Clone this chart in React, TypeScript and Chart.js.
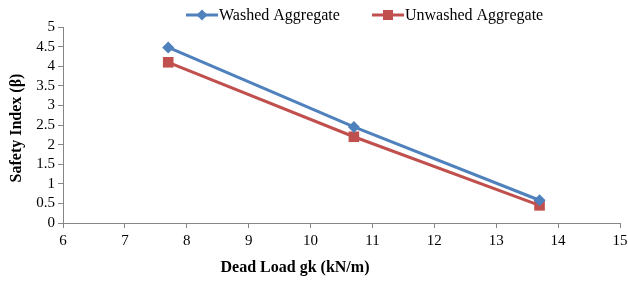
import React, { useEffect, useRef } from "react";
import { Chart, registerables } from "chart.js";

Chart.register(...registerables);

const xValues = [7.7, 10.7, 13.7];
const washed = [4.48, 2.45, 0.58];
const unwashed = [4.1, 2.2, 0.45];
const seriesNames = ["Washed Aggregate", "Unwashed Aggregate"];
const xTitle = "Dead Load gk (kN/m)";
const yTitle = "Safety Index (β)";

const BLUE = "#4F81BD";
const RED = "#C0504D";
const FONT = "Liberation Serif";

export default function App() {
  const ref = useRef<HTMLCanvasElement>(null);
  useEffect(() => {
    document.body.style.margin = "0";
    const ctx = ref.current!;
    const overlay = {
      id: "overlay",
      afterDraw(chart: any) {
        const c = chart.ctx;
        const area = chart.chartArea;
        c.save();
        // legend
        c.font = `16px "${FONT}"`;
        c.textBaseline = "middle";
        c.fillStyle = "#000";
        const ly = 15;
        const items = [
          { x: 186, color: BLUE, style: "rectRot", name: seriesNames[0] },
          { x: 372, color: RED, style: "rect", name: seriesNames[1] },
        ];
        for (const it of items) {
          c.strokeStyle = it.color;
          c.lineWidth = 3;
          c.beginPath();
          c.moveTo(it.x, ly);
          c.lineTo(it.x + 32, ly);
          c.stroke();
          c.fillStyle = it.color;
          const cx = it.x + 16;
          if (it.style === "rectRot") {
            c.beginPath();
            c.moveTo(cx, ly - 5.5);
            c.lineTo(cx + 5.5, ly);
            c.lineTo(cx, ly + 5.5);
            c.lineTo(cx - 5.5, ly);
            c.closePath();
            c.fill();
          } else {
            c.fillRect(cx - 5, ly - 5, 10, 10);
          }
          c.fillStyle = "#000";
          c.textAlign = "left";
          c.fillText(it.name, it.x + 33, ly + 1);
        }
        // x title
        c.font = `bold 16px "${FONT}"`;
        c.textAlign = "center";
        c.fillText(xTitle, 295, 268);
        // y title
        c.translate(17, (area.top + area.bottom) / 2 + 3);
        c.rotate(-Math.PI / 2);
        c.fillText(yTitle, 0, 0);
        c.restore();
      },
    };
    const chart = new Chart(ctx, {
      type: "line",
      data: {
        datasets: [
          {
            label: seriesNames[0],
            data: xValues.map((x, i) => ({ x, y: washed[i] })),
            borderColor: BLUE,
            backgroundColor: BLUE,
            borderWidth: 3,
            pointStyle: "rectRot",
            pointRadius: 6,
            pointHoverRadius: 6,
            pointBorderWidth: 0,
          },
          {
            label: seriesNames[1],
            data: xValues.map((x, i) => ({ x, y: unwashed[i] })),
            borderColor: RED,
            backgroundColor: RED,
            borderWidth: 3,
            pointStyle: "rect",
            pointRadius: 7.5,
            pointHoverRadius: 7.5,
            pointBorderWidth: 0,
          },
        ],
      },
      options: {
        responsive: false,
        animation: false,
        layout: { padding: { top: 27, right: 8, left: 0, bottom: 0 } },
        plugins: { legend: { display: false }, tooltip: { enabled: false }, title: { display: false } },
        scales: {
          x: {
            type: "linear",
            min: 6,
            max: 15,
            border: { color: "#868686", width: 1 },
            grid: { drawOnChartArea: false, drawTicks: true, tickLength: 5, color: "#868686" },
            ticks: {
              stepSize: 1,
              autoSkip: false,
              maxRotation: 0,
              color: "#000",
              font: { family: FONT, size: 15 },
              padding: 4,
              callback: (v: any) => String(v),
            },
            afterFit(scale: any) {
              scale.height = 58;
              scale.paddingLeft = 0;
              scale.paddingRight = 0;
            },
          },
          y: {
            min: 0,
            max: 5,
            border: { color: "#868686", width: 1 },
            grid: { drawOnChartArea: false, drawTicks: true, tickLength: 5, color: "#868686" },
            ticks: {
              stepSize: 0.5,
              autoSkip: false,
              color: "#000",
              font: { family: FONT, size: 15 },
              padding: 3,
              callback: (v: any) => String(v),
            },
            afterFit(scale: any) {
              scale.width = 63;
              scale.paddingTop = 0;
              scale.paddingBottom = 0;
            },
          },
        },
      },
      plugins: [overlay],
    });
    return () => chart.destroy();
  }, []);
  return (
    <div style={{ width: 628, height: 281 }}>
      <canvas ref={ref} width={628} height={281} style={{ display: "block" }} />
    </div>
  );
}
